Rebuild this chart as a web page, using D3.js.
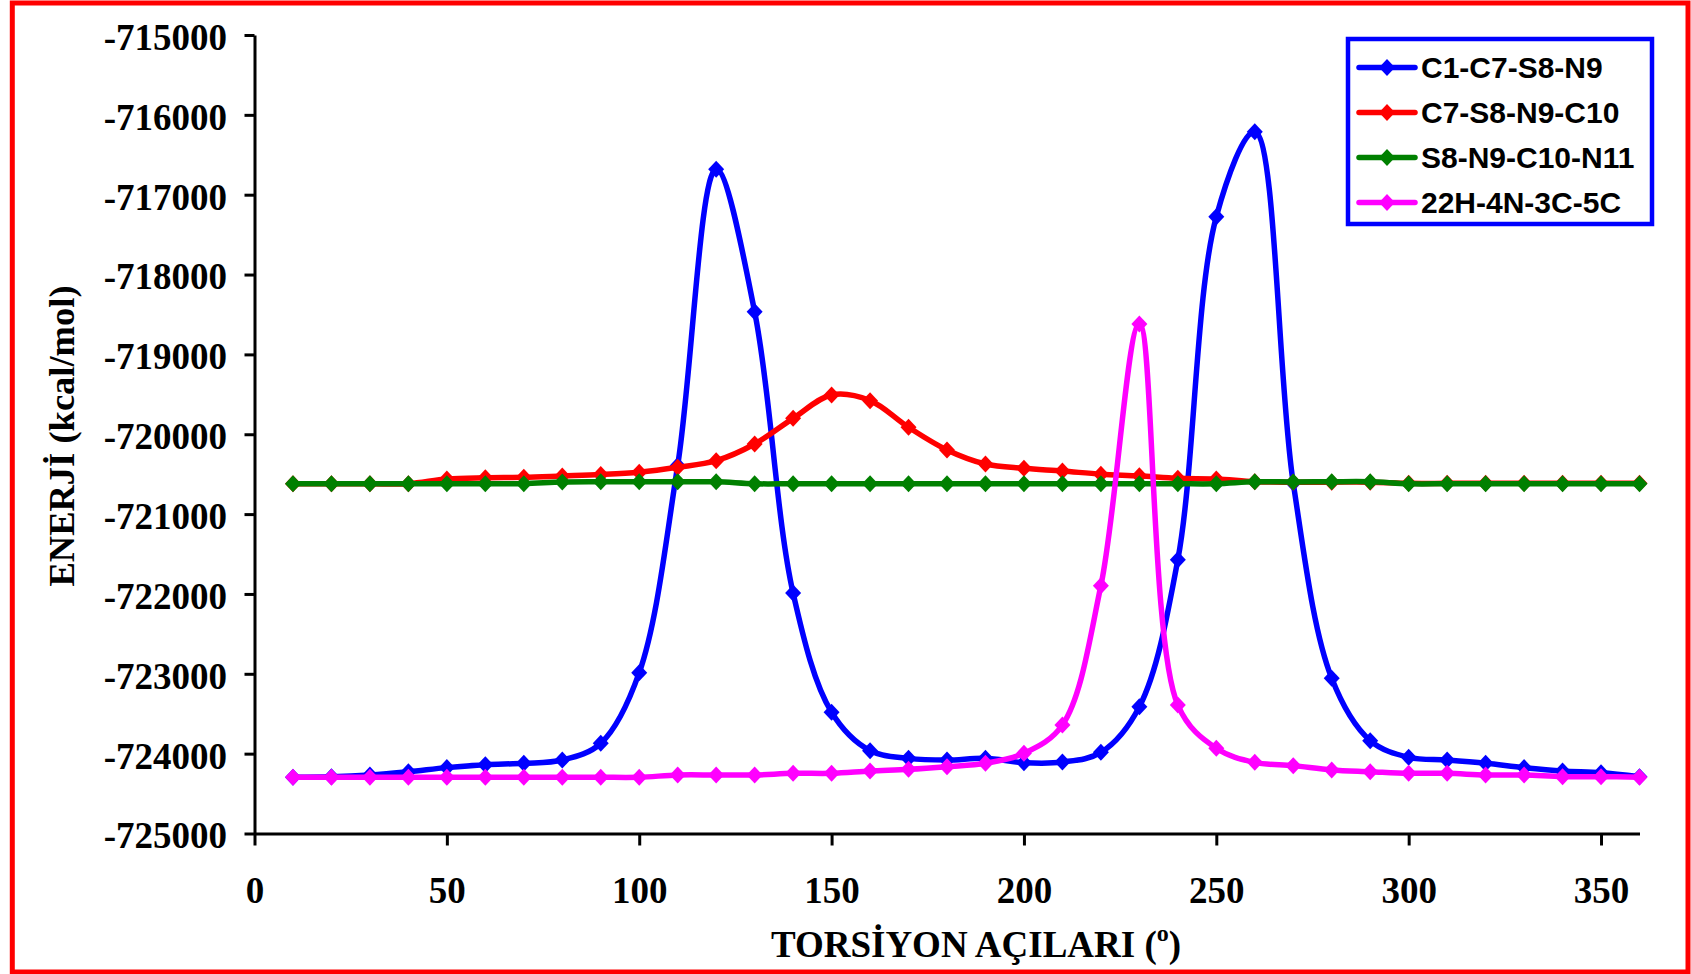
<!DOCTYPE html>
<html>
<head>
<meta charset="utf-8">
<script src="https://cdn.jsdelivr.net/npm/d3@7"></script>
<style>
  html, body { margin: 0; padding: 0; background: #fff; }
  svg { display: block; }
</style>
</head>
<body>
<svg id="chart" width="1691" height="974"></svg>
<script>
// ---------------- DATA ----------------
const angles = [10,20,30,40,50,60,70,80,90,100,110,120,130,140,150,160,170,180,190,200,210,220,230,240,250,260,270,280,290,300,310,320,330,340,350,360];

const seriesNames = ["C1-C7-S8-N9", "C7-S8-N9-C10", "S8-N9-C10-N11", "22H-4N-3C-5C"];

const c1c7s8n9 = [-724296,-724290,-724267,-724226,-724175,-724138,-724121,-724080,-723871,-722986,
  -720390,-716682,-718465,-721989,-723482,-723963,-724059,-724080,-724059,-724113,
  -724105,-723984,-723412,-721571,-717275,-716211,-720612,-723057,-723837,-724046,
  -724080,-724121,-724175,-724217,-724238,-724288];

const c7s8n9c10 = [-720620,-720620,-720620,-720620,-720560,-720545,-720540,-720523,-720505,-720475,
  -720414,-720331,-720122,-719801,-719508,-719579,-719913,-720197,-720373,-720427,
  -720460,-720500,-720521,-720552,-720560,-720594,-720600,-720600,-720600,-720615,
  -720615,-720615,-720615,-720615,-720615,-720615];

const s8n9c10n11 = [-720620,-720620,-720620,-720620,-720620,-720620,-720620,-720598,-720595,-720595,
  -720595,-720595,-720620,-720620,-720620,-720620,-720620,-720620,-720620,-720620,
  -720620,-720620,-720620,-720620,-720620,-720595,-720598,-720595,-720595,-720620,
  -720620,-720620,-720620,-720620,-720620,-720620];

const h22n4c3c5 = [-724296,-724296,-724296,-724296,-724296,-724296,-724296,-724296,-724296,-724296,
  -724267,-724267,-724267,-724246,-724246,-724217,-724196,-724163,-724121,-723996,
  -723641,-721896,-718619,-723391,-723933,-724109,-724150,-724205,-724226,-724246,
  -724246,-724267,-724267,-724288,-724288,-724296];

const seriesColors = ["#0000FF", "#FF0000", "#008000", "#FF00FF"];

const xTicks = [0,50,100,150,200,250,300,350];
const yTicks = [-725000,-724000,-723000,-722000,-721000,-720000,-719000,-718000,-717000,-716000,-715000];

const xTitle = "TORSİYON AÇILARI (";
const xTitleSup = "o";
const yTitle = "ENERJİ (kcal/mol)";

// ---------------- LAYOUT ----------------
const W = 1691, H = 974;
const margin = { left: 254.5, right: 51.5, top: 35, bottom: 140.5 };
const svg = d3.select("#chart");

// red outer frame
svg.append("rect")
  .attr("x", 12.3).attr("y", 3)
  .attr("width", 1675.7).attr("height", 969)
  .attr("fill", "#fff")
  .attr("stroke", "#FF0000").attr("stroke-width", 5);

const x = d3.scaleLinear().domain([0, 360]).range([margin.left, W - margin.right]);
const y = d3.scaleLinear().domain([-725000, -715000]).range([H - margin.bottom, margin.top]);

const serifFont = "'Liberation Serif', 'Times New Roman', serif";
const sansFont = "'Liberation Sans', Arial, sans-serif";

// ---------------- AXES ----------------
const yAxis = d3.axisLeft(y).tickValues(yTicks).tickFormat(d => String(d)).tickSize(10).tickSizeOuter(0);
const gy = svg.append("g").attr("transform", `translate(${margin.left},0)`).call(yAxis);
gy.select(".domain").attr("stroke", "#000").attr("stroke-width", 3);
gy.selectAll(".tick line").attr("stroke", "#000").attr("stroke-width", 3);
gy.selectAll(".tick text")
  .attr("x", -27.5).attr("dy", "0.39em")
  .attr("font-family", serifFont).attr("font-weight", "bold").attr("font-size", 37)
  .attr("fill", "#000");

const xAxis = d3.axisBottom(x).tickValues(xTicks).tickFormat(d => String(d)).tickSize(12).tickSizeOuter(0);
const gx = svg.append("g").attr("transform", `translate(0,${H - margin.bottom})`).call(xAxis);
gx.select(".domain").attr("stroke", "#000").attr("stroke-width", 3);
gx.selectAll(".tick line").attr("stroke", "#000").attr("stroke-width", 3);
gx.selectAll(".tick text")
  .attr("y", 69.5).attr("dy", 0)
  .attr("font-family", serifFont).attr("font-weight", "bold").attr("font-size", 37)
  .attr("fill", "#000");
svg.selectAll(".domain").attr("fill", "none");

// axis titles
const xt = svg.append("text")
  .attr("x", 976).attr("y", 957)
  .attr("text-anchor", "middle")
  .attr("font-family", serifFont).attr("font-weight", "bold").attr("font-size", 37)
  .attr("fill", "#000");
xt.append("tspan").text(xTitle);
xt.append("tspan").attr("font-size", 24).attr("dy", -16).text(xTitleSup);
xt.append("tspan").attr("dy", 16).text(")");

svg.append("text")
  .attr("transform", "translate(74,436) rotate(-90)")
  .attr("text-anchor", "middle")
  .attr("font-family", serifFont).attr("font-weight", "bold").attr("font-size", 36.5)
  .attr("fill", "#000")
  .text(yTitle);

// ---------------- SERIES ----------------
const allSeries = [c1c7s8n9, c7s8n9c10, s8n9c10n11, h22n4c3c5];
const line = d3.line()
  .x((d, i) => x(angles[i]))
  .y(d => y(d))
  .curve(d3.curveCatmullRom.alpha(0.5));

const diamond = "M0,-8.5L8,0L0,8.5L-8,0Z";

allSeries.forEach((vals, si) => {
  const g = svg.append("g");
  g.append("path")
    .datum(vals)
    .attr("d", line)
    .attr("fill", "none")
    .attr("stroke", seriesColors[si])
    .attr("stroke-width", 5.5)
    .attr("stroke-linejoin", "round");
  g.selectAll("path.mk")
    .data(vals)
    .join("path")
    .attr("class", "mk")
    .attr("d", diamond)
    .attr("transform", (d, i) => `translate(${x(angles[i])},${y(d)})`)
    .attr("fill", seriesColors[si]);
});

// ---------------- LEGEND ----------------
const lg = svg.append("g");
lg.append("rect")
  .attr("x", 1348).attr("y", 39).attr("width", 304).attr("height", 185)
  .attr("fill", "#fff").attr("stroke", "#0000FF").attr("stroke-width", 4.5);

seriesNames.forEach((name, i) => {
  const yy = 67.5 + i * 45;
  lg.append("line")
    .attr("x1", 1359).attr("x2", 1415).attr("y1", yy).attr("y2", yy)
    .attr("stroke", seriesColors[i]).attr("stroke-width", 5.5).attr("stroke-linecap", "round");
  lg.append("path")
    .attr("d", diamond)
    .attr("transform", `translate(1387,${yy})`)
    .attr("fill", seriesColors[i]);
  lg.append("text")
    .attr("x", 1421).attr("y", yy).attr("dy", "0.35em")
    .attr("font-family", sansFont).attr("font-weight", "bold").attr("font-size", 30)
    .attr("fill", "#000")
    .text(name);
});
</script>
</body>
</html>
